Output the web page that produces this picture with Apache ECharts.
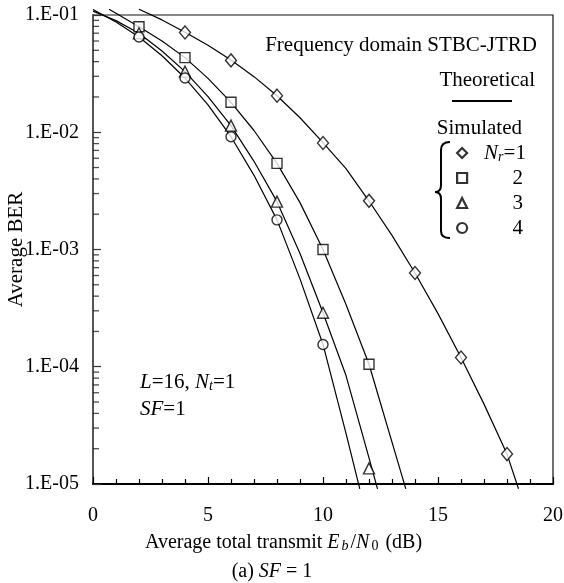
<!DOCTYPE html>
<html>
<head>
<meta charset="utf-8">
<script src="https://cdn.jsdelivr.net/npm/echarts@6/dist/echarts.min.js"></script>
<style>
  html, body { margin: 0; padding: 0; background: #fff; }
  #chart { width: 564px; height: 583px; }
</style>
</head>
<body>
<div id="chart"></div>
<script>
// Eb/N0 (dB) and BER of the simulated points, one pair of arrays per receive-antenna count
const simX1 = [4, 6, 8, 10, 12, 14, 16, 18];
const simBer1 = [7.1e-2, 4.1e-2, 2.05e-2, 8.1e-3, 2.6e-3, 6.3e-4, 1.2e-4, 1.8e-5];
const simX2 = [2, 4, 6, 8, 10, 12];
const simBer2 = [7.95e-2, 4.33e-2, 1.8e-2, 5.43e-3, 1.0e-3, 1.05e-4];
const simX3 = [2, 4, 6, 8, 10, 12];
const simBer3 = [6.98e-2, 3.29e-2, 1.14e-2, 2.56e-3, 2.89e-4, 1.36e-5];
const simX4 = [2, 4, 6, 8, 10];
const simBer4 = [6.49e-2, 2.9e-2, 9.16e-3, 1.79e-3, 1.55e-4];

// Theoretical BER curves
const thX1 = [2, 3, 4, 5, 6, 7, 8, 9, 10, 11, 12, 13, 14, 15, 16, 17, 18, 18.5];
const thBer1 = [0.112, 0.0908, 0.0712, 0.0551, 0.0413, 0.0298, 0.0205, 0.0133, 0.00815, 0.0049,
                0.00259, 0.00132, 6.3e-4, 2.84e-4, 1.2e-4, 4.8e-5, 1.8e-5, 9.1e-6];
const thX2 = [0.7, 1, 2, 3, 4, 5, 6, 7, 8, 9, 10, 11, 12, 13.6];
const thBer2 = [0.112, 0.1035, 0.0795, 0.06, 0.0433, 0.0288, 0.018, 0.01035, 0.00543, 0.00251,
                0.001, 3.39e-4, 1.05e-4, 9.1e-6];
const thX3 = [0, 1, 2, 3, 4, 5, 6, 7, 8, 9, 10, 11, 12, 12.37];
const thBer3 = [0.108, 0.0895, 0.0698, 0.0493, 0.0329, 0.0201, 0.01138, 0.00565, 0.00256, 9.23e-4,
                2.89e-4, 8.41e-5, 1.67e-5, 9.1e-6];
const thX4 = [0, 1, 2, 3, 4, 5, 6, 7, 8, 9, 10, 11, 11.6];
const thBer4 = [0.1114, 0.0871, 0.0649, 0.0449, 0.029, 0.0171, 0.00916, 0.00429, 0.00179, 5.62e-4,
                1.55e-4, 2.7e-5, 9.1e-6];

// Legend names and symbols of the simulated series
const legendNames = ['Nr=1', '2', '3', '4'];
const legendSymbols = ['diamond', 'rect', 'triangle', 'circle'];

// Axis ranges and the minor (2..9 x decade) ticks of the log axis
const xTicks = [0, 5, 10, 15, 20];
const yDecades = [1e-5, 1e-4, 1e-3, 1e-2, 1e-1];
const yMinorFactors = [2, 3, 4, 5, 6, 7, 8, 9];

const FONT = '"Liberation Serif", "Times New Roman", serif';

const pairs = (xs, ys) => xs.map((x, i) => [x, ys[i]]);

const yMinorTicks = [];
for (let d = 0; d < yDecades.length - 1; d++) {
  yMinorFactors.forEach(f => yMinorTicks.push([xTicks[0], yDecades[d] * f]));
}

const simSets = [[simX1, simBer1], [simX2, simBer2], [simX3, simBer3], [simX4, simBer4]];
const thSets = [[thX1, thBer1], [thX2, thBer2], [thX3, thBer3], [thX4, thBer4]];
const symbolSizes = [[11, 13], 10, [11, 11], 10];

const series = [];
thSets.forEach((s, i) => {
  series.push({
    name: 'theory' + (i + 1),
    type: 'line',
    data: pairs(s[0], s[1]),
    showSymbol: false,
    symbol: 'none',
    clip: false,
    lineStyle: { color: '#000', width: 1.2 },
    z: 2
  });
});
simSets.forEach((s, i) => {
  series.push({
    name: legendNames[i],
    type: 'scatter',
    data: pairs(s[0], s[1]),
    symbol: legendSymbols[i],
    symbolSize: symbolSizes[i],
    itemStyle: { color: '#fff', borderColor: '#000', borderWidth: 1.4 },
    clip: false,
    z: 3
  });
});
// inner minor ticks on the log axis
series.push({
  name: 'yMinorTicks',
  type: 'scatter',
  data: yMinorTicks,
  symbol: 'rect',
  symbolSize: [6, 1.3],
  symbolOffset: [3, 0],
  itemStyle: { color: '#222' },
  silent: true,
  clip: false,
  z: 4
});

const chart = echarts.init(document.getElementById('chart'), null, { renderer: 'canvas' });

const italic = { fontStyle: 'italic', fontFamily: FONT, fontSize: 21, color: '#000' };
const sub = { fontFamily: FONT, fontSize: 14, color: '#000', padding: [9, 0, 0, 0] };
const braceStyle = { stroke: '#000', lineWidth: 2, fill: null };

chart.setOption({
  animation: false,
  backgroundColor: '#fff',
  textStyle: { fontFamily: FONT },
  grid: {
    left: 93, right: 11, top: 15, bottom: 99,
    containLabel: false,
    outerBoundsMode: 'none',
    show: true, borderColor: '#111', borderWidth: 1.2, backgroundColor: 'transparent'
  },
  xAxis: {
    type: 'value',
    min: xTicks[0],
    max: xTicks[xTicks.length - 1],
    interval: 5,
    axisLine: { show: true, onZero: false, lineStyle: { color: '#000', width: 2 } },
    axisTick: { show: true, inside: true, length: 7, lineStyle: { color: '#000', width: 1.2 } },
    minorTick: { show: true, splitNumber: 5, length: 5, lineStyle: { color: '#000', width: 1.2 } },
    splitLine: { show: false },
    axisLabel: { fontFamily: FONT, fontSize: 20, color: '#000', margin: 22 }
  },
  yAxis: {
    type: 'log',
    logBase: 10,
    min: yDecades[0],
    max: yDecades[yDecades.length - 1],
    name: 'Average BER',
    nameLocation: 'middle',
    nameGap: 66,
    nameMoveOverlap: false,
    nameTextStyle: { fontFamily: FONT, fontSize: 21, color: '#000' },
    axisLine: { show: true, onZero: false, lineStyle: { color: '#555', width: 2 } },
    axisTick: { show: true, inside: true, length: 8, lineStyle: { color: '#333', width: 1.2 } },
    minorTick: { show: false },
    splitLine: { show: false },
    axisLabel: {
      fontFamily: FONT, fontSize: 20, color: '#000', margin: 14,
      formatter: v => {
        const e = Math.round(Math.log10(v));
        return '1.E-' + String(-e).padStart(2, '0');
      }
    }
  },
  legend: {
    data: legendNames,
    orient: 'vertical',
    left: 451,
    top: 136,
    padding: 5,
    itemWidth: 10,
    itemHeight: 10,
    itemGap: 1,
    selectedMode: false,
    itemStyle: { color: '#fff', borderColor: '#000', borderWidth: 2.2 },
    textStyle: {
      fontFamily: FONT, fontSize: 21, color: '#000', lineHeight: 24,
      rich: {
        pad: { width: 12 },
        n: { fontStyle: 'italic', fontFamily: FONT, fontSize: 21, color: '#000' },
        s: { fontStyle: 'italic', fontFamily: FONT, fontSize: 14, color: '#000', padding: [9, 0, 0, 0] },
        t: { fontFamily: FONT, fontSize: 21, color: '#000' },
        num: { fontFamily: FONT, fontSize: 21, color: '#000', width: 51, align: 'right' }
      }
    },
    formatter: name => name === 'Nr=1' ? '{pad|}{n|N}{s|r}{t|=1}' : '{num|' + name + '}'
  },
  graphic: [
    {
      type: 'text', x: 537, y: 45,
      style: { text: 'Frequency domain STBC-JTRD', fontFamily: FONT, fontSize: 21, fill: '#000', align: 'right', verticalAlign: 'middle' }
    },
    {
      type: 'text', x: 535, y: 80,
      style: { text: 'Theoretical', fontFamily: FONT, fontSize: 21, fill: '#000', align: 'right', verticalAlign: 'middle' }
    },
    {
      type: 'line', shape: { x1: 452, y1: 101, x2: 512, y2: 101 },
      style: { stroke: '#000', lineWidth: 2 }
    },
    {
      type: 'text', x: 522, y: 128,
      style: { text: 'Simulated', fontFamily: FONT, fontSize: 21, fill: '#000', align: 'right', verticalAlign: 'middle' }
    },
    // curly brace grouping the simulated entries
    { type: 'bezierCurve', shape: { x1: 450, y1: 142, cpx1: 441, cpy1: 142, x2: 441, y2: 150 }, style: braceStyle },
    { type: 'line', shape: { x1: 441, y1: 150, x2: 441, y2: 185 }, style: braceStyle },
    { type: 'bezierCurve', shape: { x1: 441, y1: 185, cpx1: 441, cpy1: 192, x2: 435, y2: 192 }, style: braceStyle },
    { type: 'bezierCurve', shape: { x1: 435, y1: 192, cpx1: 441, cpy1: 192, x2: 441, y2: 199 }, style: braceStyle },
    { type: 'line', shape: { x1: 441, y1: 199, x2: 441, y2: 231 }, style: braceStyle },
    { type: 'bezierCurve', shape: { x1: 441, y1: 231, cpx1: 441, cpy1: 238, x2: 450, y2: 238 }, style: braceStyle },
    {
      type: 'text', x: 140, y: 382,
      style: {
        text: '{i|L}=16, {i|N}{s|t}=1', fontFamily: FONT, fontSize: 21, fill: '#000', verticalAlign: 'middle',
        rich: { i: italic, s: Object.assign({}, sub, { fontStyle: 'italic' }) }
      }
    },
    {
      type: 'text', x: 140, y: 409,
      style: {
        text: '{i|SF}=1', fontFamily: FONT, fontSize: 21, fill: '#000', verticalAlign: 'middle',
        rich: { i: italic }
      }
    },
    {
      type: 'text', x: 145, y: 543,
      style: {
        text: 'Average total transmit {i|E}{s|b}/{i|N}{n|0} (dB)', fontFamily: FONT, fontSize: 20, fill: '#000', verticalAlign: 'middle',
        rich: {
          i: Object.assign({}, italic, { fontSize: 20 }),
          s: Object.assign({}, sub, { fontStyle: 'italic', padding: [6, 2, 0, 2] }),
          n: Object.assign({}, sub, { padding: [6, 2, 0, 2] })
        }
      }
    },
    {
      type: 'text', x: 272, y: 572,
      style: {
        text: '(a) {i|SF} = 1', fontFamily: FONT, fontSize: 20, fill: '#000', align: 'center', verticalAlign: 'middle',
        rich: { i: Object.assign({}, italic, { fontSize: 20 }) }
      }
    }
  ],
  series: series
});
</script>
</body>
</html>
